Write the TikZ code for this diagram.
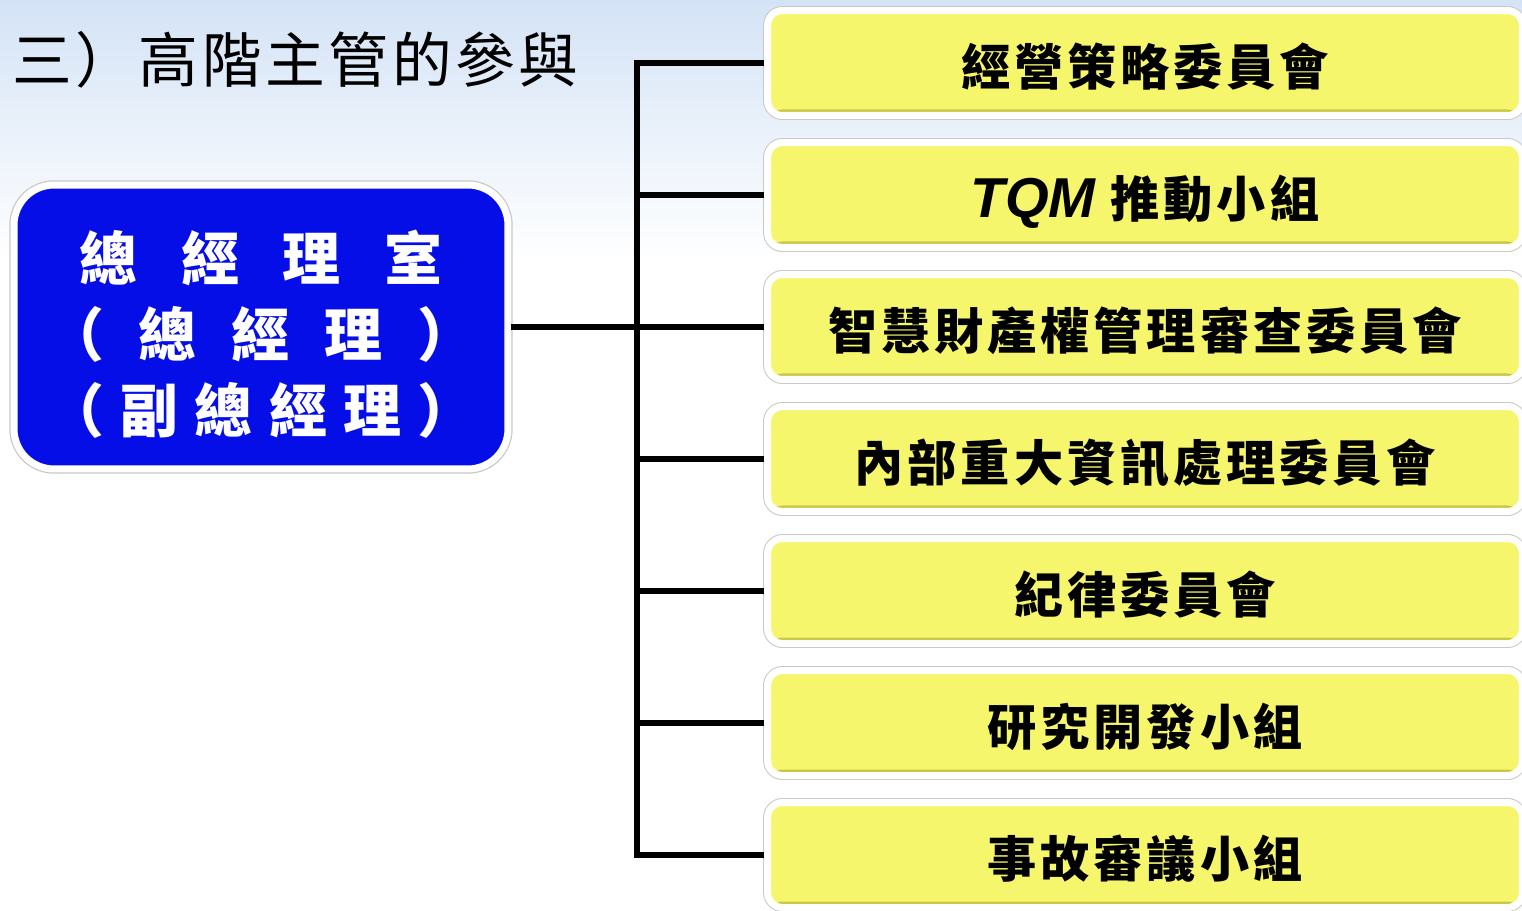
\documentclass[tikz,border=0pt]{standalone}
\usepackage{fontspec}
\newfontfamily\cjk{Noto Sans CJK TC}
\newfontfamily\cjkwide[LetterSpace=6]{Noto Sans CJK TC}
\newfontfamily\cjkbox[LetterSpace=8]{Noto Sans CJK TC}
\newfontfamily\tqmfont{Liberation Sans}
\usetikzlibrary{shadows}

\definecolor{skyblue}{RGB}{212,227,246}
\definecolor{gmblue}{RGB}{6,14,232}
\definecolor{boxyellow}{RGB}{246,246,108}
\definecolor{yellowedge}{RGB}{200,200,70}
\definecolor{rimgray}{RGB}{200,200,200}

\tikzset{
  gmbox/.style={draw=white,line width=0.14cm,fill=gmblue,rounded corners=0.8cm,
    minimum width=9.88cm,minimum height=5.68cm,text=white,align=center,
    font=\cjk\bfseries\fontsize{33}{43}\selectfont,
    preaction={draw=rimgray,line width=0.19cm},
    drop shadow={shadow xshift=0.03cm,shadow yshift=-0.05cm,opacity=0.25}},
  combox/.style={draw=white,line width=0.14cm,fill=boxyellow,rounded corners=0.3cm,
    minimum width=15.1cm,minimum height=2.1cm,text height=29pt,text depth=3.5pt,
    font=\cjkbox\bfseries\fontsize{28}{32}\selectfont,
    preaction={draw=rimgray,line width=0.18cm},
    drop shadow={shadow xshift=0.02cm,shadow yshift=-0.04cm,opacity=0.2},
    path picture={\fill[yellowedge] (path picture bounding box.south west)
      rectangle ([yshift=0.12cm]path picture bounding box.south east);}},
  link/.style={line width=0.12cm}
}

\begin{document}
\begin{tikzpicture}[x=0.02cm,y=-0.02cm]
\useasboundingbox (0,0) rectangle (1522,910);
\clip (0,0) rectangle (1522,910);
\fill[white] (0,0) rectangle (1522,910);
\shade[top color=skyblue,bottom color=white] (0,0) rectangle (1522,260);

% title
\node[anchor=west,inner sep=0pt,font=\cjkwide\fontsize{34}{40}\selectfont] (title) at (12,60) {三）高階主管的參與};

% general manager
\node[gmbox] (gm) at (261,327) {\rule{0pt}{1.3cm}\makebox[7.26cm]{總\hfill 經\hfill 理\hfill 室}\\
  \makebox[8.6cm]{（\hfill 總\hfill 經\hfill 理\hfill ）}\\
  \makebox[8.6cm]{（\hfill 副\hfill 總\hfill 經\hfill 理\hfill ）}};

% committees
\node[combox] (c1) at (1145,63) {經營策略委員會};
\node[combox] (c2) at (1145,195) {{\tqmfont\bfseries\itshape\fontsize{32}{32}\selectfont TQM} 推動小組};
\node[combox] (c3) at (1145,327) {智慧財產權管理審查委員會};
\node[combox] (c4) at (1145,459) {內部重大資訊處理委員會};
\node[combox] (c5) at (1145,591) {紀律委員會};
\node[combox] (c6) at (1145,723) {研究開發小組};
\node[combox] (c7) at (1145,855) {事故審議小組};

\coordinate (hub) at (637,327);
\foreach \i/\y in {1/63,2/195,3/327,4/459,5/591,6/723,7/855}
  \coordinate (t\i) at (637,\y);

\draw[link] (c1) -- (t1) -- (t7) -- (c7);
\draw[link] (gm) -- (hub);
\foreach \i in {2,...,6}
  \draw[link] (t\i) -- (c\i);
\end{tikzpicture}
\end{document}
